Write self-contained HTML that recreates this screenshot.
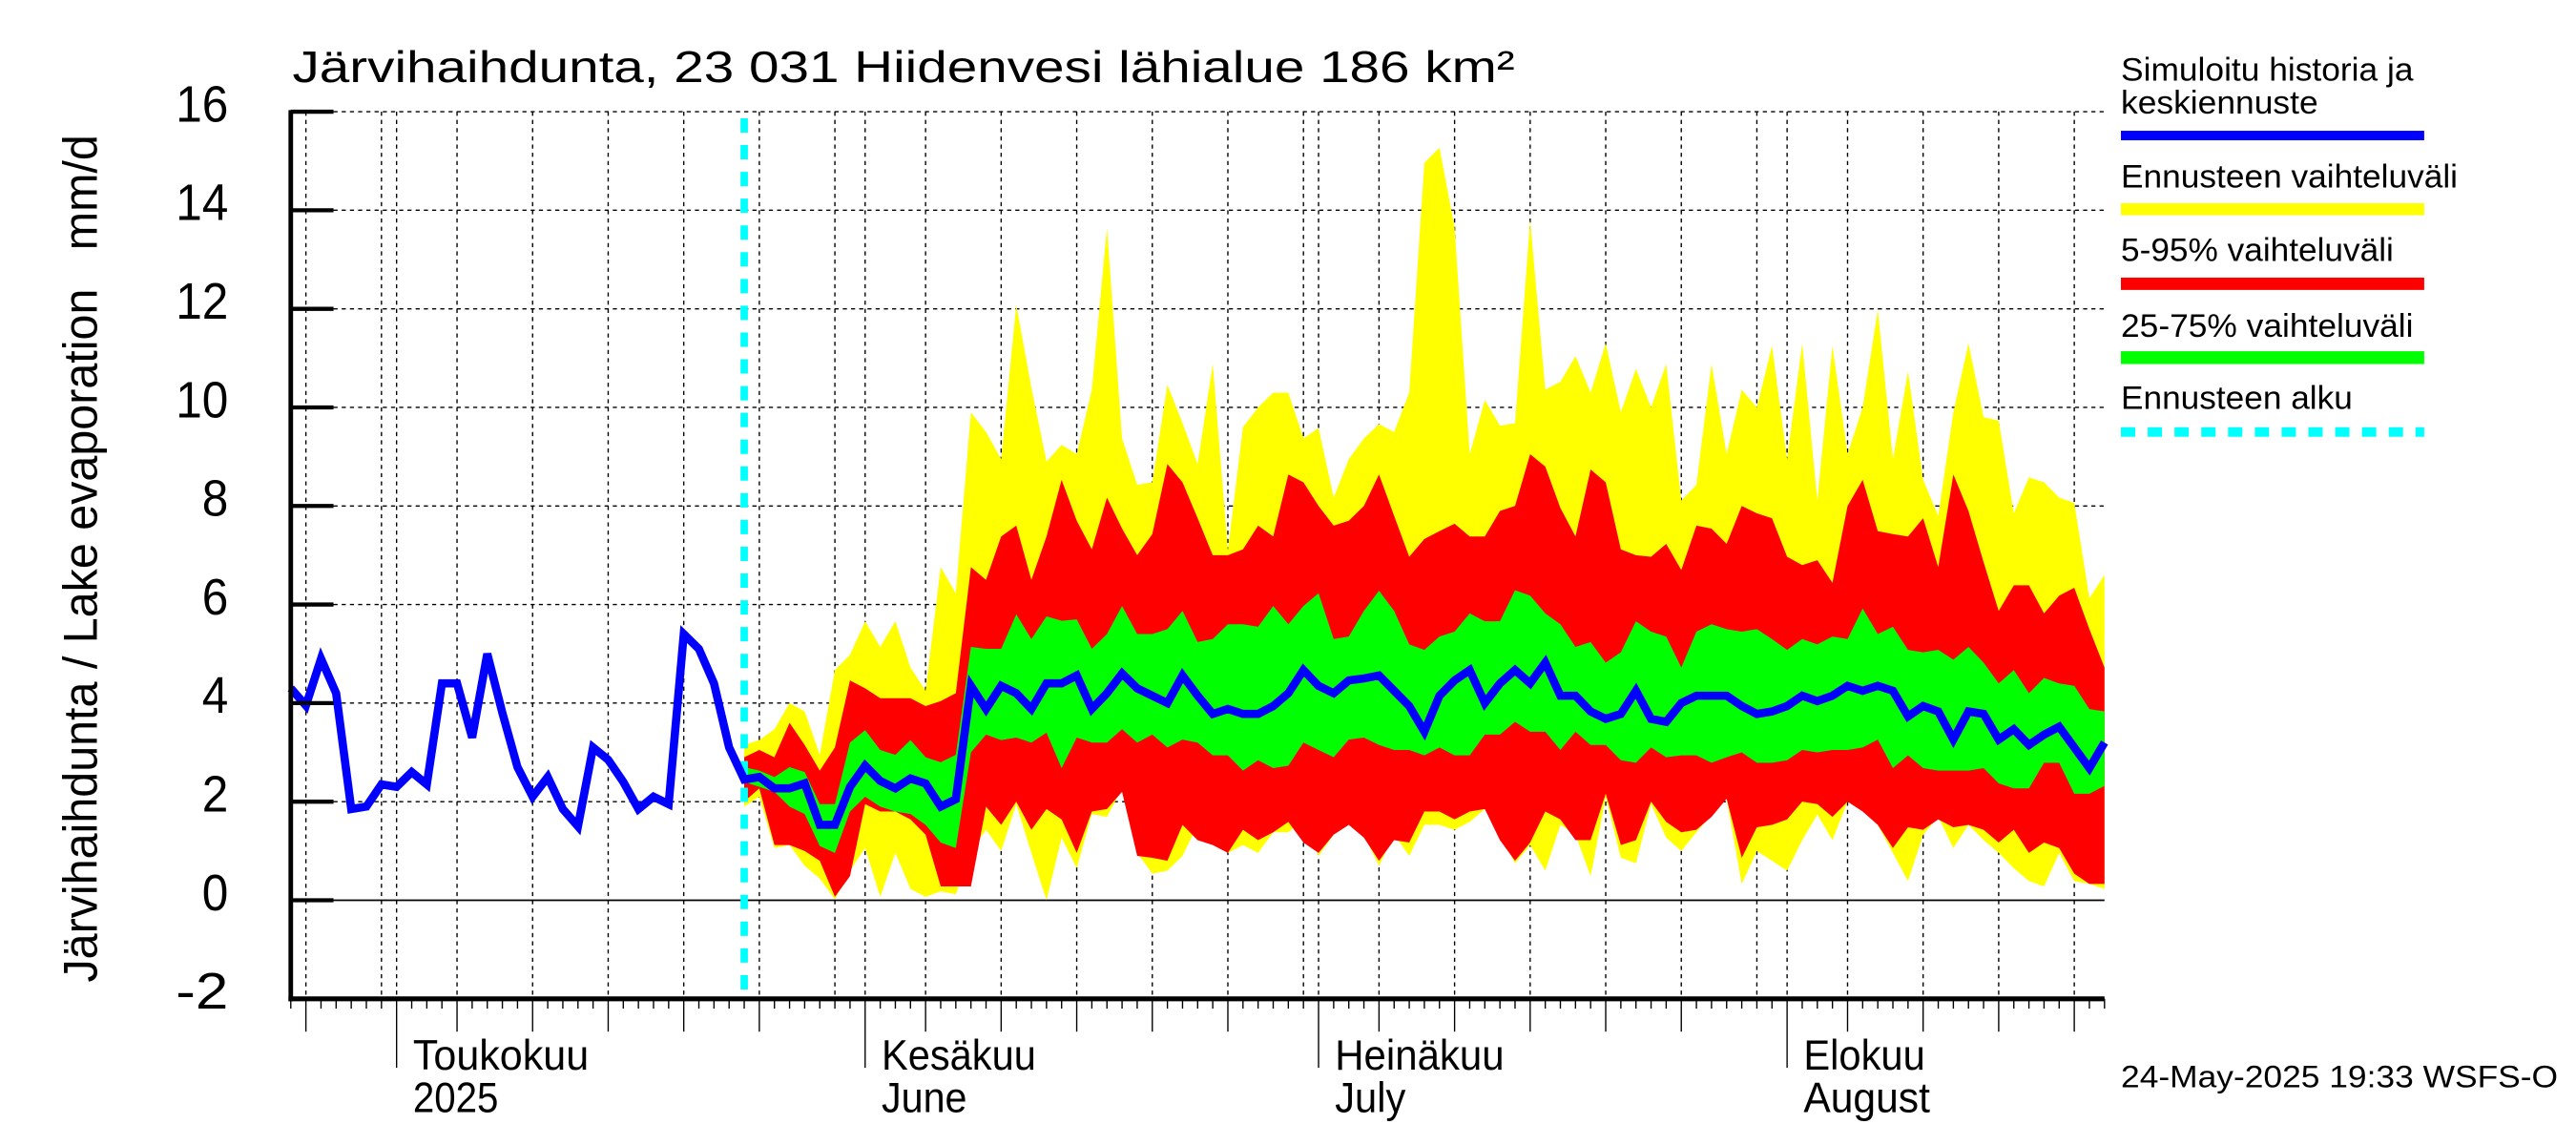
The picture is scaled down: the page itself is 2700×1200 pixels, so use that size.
<!DOCTYPE html>
<html><head><meta charset="utf-8"><title>Järvihaihdunta</title>
<style>html,body{margin:0;padding:0;background:#fff;}svg{display:block;}text{font-family:"Liberation Sans",sans-serif;fill:#000;}</style>
</head><body>
<svg id="chart" xmlns="http://www.w3.org/2000/svg" width="2700" height="1200" viewBox="0 0 1568 697" preserveAspectRatio="none">
<rect x="0" y="0" width="1568" height="697" fill="#fff"/>
<g id="grid"></g>
<g id="bands"></g>
<g id="lines"></g>
<g id="axes"></g>
<text x="178" y="50" font-size="27" textLength="744" lengthAdjust="spacingAndGlyphs">Järvihaihdunta, 23 031 Hiidenvesi lähialue 186 km²</text>
<text transform="translate(59,598) rotate(-90)" font-size="29" textLength="516" lengthAdjust="spacingAndGlyphs" xml:space="preserve">Järvihaihdunta / Lake evaporation   mm/d</text>
<g>
<text x="1291" y="49" font-size="20" textLength="178" lengthAdjust="spacingAndGlyphs">Simuloitu historia ja</text>
<text x="1291" y="69" font-size="20" textLength="120" lengthAdjust="spacingAndGlyphs">keskiennuste</text>
<rect x="1291" y="79.6" width="184.6" height="5.8" fill="#0000ff"/>
<text x="1291" y="114" font-size="20" textLength="205" lengthAdjust="spacingAndGlyphs">Ennusteen vaihteluväli</text>
<rect x="1291" y="123.7" width="184.6" height="7.3" fill="#ffff00"/>
<text x="1291" y="159" font-size="20" textLength="166" lengthAdjust="spacingAndGlyphs">5-95% vaihteluväli</text>
<rect x="1291" y="169" width="184.6" height="7.5" fill="#ff0000"/>
<text x="1291" y="205" font-size="20" textLength="178" lengthAdjust="spacingAndGlyphs">25-75% vaihteluväli</text>
<rect x="1291" y="213.8" width="184.6" height="7.8" fill="#00ff00"/>
<text x="1291" y="249" font-size="20" textLength="141" lengthAdjust="spacingAndGlyphs">Ennusteen alku</text>
<line x1="1291" y1="263" x2="1475.6" y2="263" stroke="#00ffff" stroke-width="5.8" stroke-dasharray="8.7,7.6"/>
</g>
<text x="1291" y="662" font-size="19" textLength="266" lengthAdjust="spacingAndGlyphs">24-May-2025 19:33 WSFS-O</text>
</svg>
<script>
// Data (day index 0 = 24 Apr 2025)
const histValues = [4.3,3.95,4.9,4.2,1.85,1.9,2.35,2.3,2.6,2.35,4.4,4.4,3.3,5.0,3.8,2.7,2.1,2.5,1.85,1.5,3.1,2.85,2.4,1.85,2.1,1.95,5.4,5.1,4.4,3.1,2.45];
const forecastStartDay = 30;
const median = [2.47,2.5,2.27,2.27,2.37,1.53,1.53,2.3,2.73,2.42,2.27,2.47,2.37,1.9,2.05,4.35,3.88,4.35,4.2,3.88,4.4,4.4,4.56,3.88,4.2,4.6,4.3,4.15,4.0,4.56,4.15,3.78,3.88,3.78,3.78,3.94,4.2,4.67,4.35,4.2,4.46,4.5,4.56,4.25,3.94,3.42,4.15,4.46,4.67,4.0,4.4,4.67,4.4,4.82,4.15,4.15,3.83,3.68,3.78,4.25,3.68,3.62,4.0,4.15,4.15,4.15,3.94,3.78,3.83,3.94,4.15,4.04,4.15,4.35,4.25,4.35,4.25,3.73,3.94,3.83,3.26,3.83,3.78,3.26,3.47,3.15,3.36,3.52,3.1,2.68,3.2];
const p75 = [2.7,2.63,2.5,2.7,2.6,1.95,1.95,3.2,3.45,3.05,2.95,3.25,2.9,2.8,2.95,5.14,5.1,5.1,5.8,5.3,5.76,5.67,5.7,5.1,5.4,5.97,5.4,5.4,5.5,5.87,5.24,5.3,5.6,5.6,5.55,5.97,5.6,5.97,6.23,5.3,5.35,5.87,6.28,5.87,5.19,5.08,5.35,5.45,5.82,5.66,5.66,6.29,6.18,5.82,5.6,5.14,5.24,4.82,5.03,5.66,5.45,5.35,4.72,5.45,5.6,5.5,5.45,5.5,5.3,5.08,5.3,5.19,5.35,5.3,5.92,5.4,5.55,5.08,5.03,5.08,4.88,5.14,4.82,4.4,4.67,4.2,4.51,4.4,4.35,3.88,3.83];
const p25 = [2.4,2.3,2.2,1.9,1.75,1.1,0.96,1.8,2.1,1.9,1.8,1.75,1.53,1.17,1.06,3.0,3.36,3.25,3.3,3.2,3.4,2.68,3.3,3.2,3.2,3.47,3.2,3.36,3.1,3.26,3.2,2.94,2.94,2.63,2.84,2.68,2.73,3.2,3.05,2.9,3.26,3.3,3.15,3.05,3.05,2.94,3.1,2.94,2.94,3.36,3.36,3.62,3.42,3.42,3.05,3.42,3.15,3.15,2.84,2.79,3.1,2.9,2.94,2.94,2.79,2.9,3.0,2.79,2.79,2.84,3.05,3.0,3.05,3.05,3.1,3.26,2.68,2.94,2.68,2.63,2.63,2.63,2.68,2.37,2.27,2.27,2.79,2.79,2.16,2.16,2.32];
const p95 = [2.9,3.05,2.9,3.6,3.15,2.63,3.1,4.46,4.3,4.1,4.1,4.1,3.94,4.04,4.2,6.76,6.5,7.38,7.6,6.5,7.38,8.53,7.7,7.12,8.17,7.54,7.0,7.43,8.85,8.48,7.75,7.0,7.0,7.12,7.6,7.38,8.64,8.48,8.0,7.6,7.7,8.0,8.64,7.8,6.97,7.33,7.49,7.64,7.38,7.38,7.9,8.0,9.05,8.8,7.96,7.38,8.74,8.48,7.12,7.0,6.97,7.23,6.7,7.6,7.54,7.23,8.0,7.85,7.75,6.97,6.8,6.9,6.44,8.0,8.53,7.49,7.43,7.38,7.75,6.76,8.64,7.9,6.86,5.87,6.39,6.39,5.82,6.18,6.34,5.5,4.72];
const p5 = [2.0,2.27,1.12,1.12,1.0,0.8,0.07,0.49,1.95,1.8,1.8,1.64,1.33,0.28,0.28,0.28,1.9,1.53,2.0,1.43,1.85,1.64,0.96,1.8,1.85,2.2,0.9,0.86,0.8,1.53,1.22,1.12,0.96,1.43,1.22,1.38,1.59,1.17,0.96,1.33,1.53,1.27,0.8,1.22,1.17,1.8,1.8,1.64,1.8,1.85,1.22,0.8,1.17,1.8,1.64,1.22,1.22,2.16,1.12,1.22,2.0,1.59,1.38,1.43,1.69,2.06,0.86,1.48,1.53,1.64,2.0,1.95,1.69,2.0,1.8,1.53,1.06,1.48,1.43,1.64,1.48,1.53,1.43,1.17,1.43,0.96,1.17,1.06,0.54,0.33,0.33];
const maxRange = [3.15,3.25,3.47,4.0,3.83,2.95,4.67,4.98,5.66,5.14,5.66,4.72,4.25,6.76,6.23,9.9,9.5,8.95,12.08,10.4,8.9,9.24,9.05,10.36,13.65,9.37,8.43,8.48,10.46,9.68,8.85,10.88,7.1,9.6,10.0,10.3,10.3,9.37,9.58,8.17,8.95,9.37,9.66,9.5,10.3,14.96,15.27,13.65,9.05,10.15,9.63,9.68,13.8,10.36,10.52,11.04,10.3,11.3,9.9,10.78,10.0,10.88,8.11,8.43,10.88,9.05,10.36,10.0,11.25,8.95,11.3,8.11,11.25,9.05,10.0,11.98,8.95,10.73,8.53,7.8,9.9,11.3,9.8,9.73,7.85,8.58,8.48,8.17,8.06,6.13,6.6];
const minRange = [1.9,2.1,1.06,1.12,0.7,0.44,0.02,0.6,1.06,0.07,0.96,0.23,0.07,0.18,0.12,1.0,1.43,1.0,1.95,0.96,0.0,1.27,0.65,1.75,1.69,2.27,0.96,0.54,0.6,0.9,1.53,1.22,0.96,1.12,0.96,1.38,1.38,1.64,0.9,1.33,1.59,1.33,0.7,1.33,0.9,1.53,1.53,1.43,1.59,1.85,1.33,0.75,1.12,0.6,1.53,1.33,0.49,2.1,0.86,0.75,1.95,1.27,1.0,1.38,1.74,2.06,0.33,1.0,0.8,0.6,1.22,1.74,1.22,2.0,1.85,1.53,0.96,0.39,1.33,1.69,1.06,1.53,1.22,0.96,0.65,0.39,0.28,0.96,0.39,0.33,0.23];
const yTicks = [-2,0,2,4,6,8,10,12,14,16];
const monthLabels = [["Toukokuu","2025"],["Kesäkuu","June"],["Heinäkuu","July"],["Elokuu","August"]];
const monthDays = [7,38,68,99];
const gridDays = [1,6,7,11,16,21,26,31,36,38,42,47,52,57,62,67,68,72,77,82,87,92,97,99,103,108,113,118];

const NS="http://www.w3.org/2000/svg";
const X0=177, X1=1281, Y_TOP=68, Y_BOT=608, DAYS=120;
const xs=d=>X0+(X1-X0)*d/DAYS;
const ys=v=>Y_BOT-(v+2)*(Y_BOT-Y_TOP)/18;
function mk(tag,attrs,parent){const e=document.createElementNS(NS,tag);for(const k in attrs)e.setAttribute(k,attrs[k]);parent.appendChild(e);return e;}
const grid=document.getElementById('grid'),bands=document.getElementById('bands'),lines=document.getElementById('lines'),axes=document.getElementById('axes');

yTicks.forEach(v=>{
  const y=ys(v);
  const g=mk('line',{x1:203,y1:y,x2:X1,y2:y,stroke:'#000','stroke-width':v===0?1:0.8,'stroke-dasharray':v===0?'none':'2.5,2.5'},grid);
  
  
  const t=mk('line',{x1:X0,y1:y,x2:203,y2:y,stroke:'#000','stroke-width':2.5},axes);
  
  
  const lab=mk('text',{x:139,y:y+6,'font-size':31,'text-anchor':'end'},axes);
  lab.textContent=String(v);
  lab.setAttribute('textLength',String(v).length*16);
  lab.setAttribute('lengthAdjust','spacingAndGlyphs');
  
  
});
gridDays.forEach(d=>{
  const x=xs(d);
  const g=mk('line',{x1:x,y1:Y_TOP,x2:x,y2:Y_BOT,stroke:'#000','stroke-width':0.8,'stroke-dasharray':'2.5,2.5'},grid);
  
  
});

function band(up,lo,color,name){
  let pts=[];
  for(let i=0;i<up.length;i++)pts.push(xs(forecastStartDay+i).toFixed(1)+','+ys(up[i]).toFixed(1));
  for(let i=lo.length-1;i>=0;i--)pts.push(xs(forecastStartDay+i).toFixed(1)+','+ys(lo[i]).toFixed(1));
  const p=mk('polygon',{points:pts.join(' '),fill:color},bands);
  
  
}
band(maxRange,minRange,'#ffff00','forecast-range-band');
band(p95,p5,'#ff0000','band-5-95');
band(p75,p25,'#00ff00','band-25-75');

const fl=mk('line',{x1:xs(forecastStartDay),y1:Y_TOP+4,x2:xs(forecastStartDay),y2:Y_BOT,stroke:'#00ffff','stroke-width':4.5,'stroke-dasharray':'8.7,7.6'},lines);



let mp=[];
histValues.forEach((v,i)=>mp.push(xs(i).toFixed(1)+','+ys(v).toFixed(1)));
median.forEach((v,i)=>{if(i>0)mp.push(xs(forecastStartDay+i).toFixed(1)+','+ys(v).toFixed(1));});
const ml=mk('polyline',{points:mp.join(' '),fill:'none',stroke:'#0000ff','stroke-width':5,'stroke-linejoin':'miter','stroke-miterlimit':3},lines);



const la=mk('line',{x1:X0,y1:Y_TOP-1,x2:X0,y2:Y_BOT+1.5,stroke:'#000','stroke-width':2.8},axes);


const ba=mk('line',{x1:X0-1.4,y1:Y_BOT,x2:X1,y2:Y_BOT,stroke:'#000','stroke-width':3},axes);


for(let d=0;d<=DAYS;d++){
  const x=xs(d);
  const date=new Date(2025,3,24+d).getDate();
  let len=6;
  if(monthDays.includes(d))len=42;else if(date%5===0&&date!==30)len=20;
  const t=mk('line',{x1:x,y1:Y_BOT,x2:x,y2:Y_BOT+len,stroke:'#000','stroke-width':0.8},axes);
  
  
}
const labW=[[107,52],[94,52],[103,43],[74,77]];
monthDays.forEach((d,i)=>{
  const x=xs(d)+10;
  const t1=mk('text',{x:x,y:651,'font-size':26,textLength:labW[i][0],lengthAdjust:'spacingAndGlyphs'},axes);
  t1.textContent=monthLabels[i][0];
  
  
  const t2=mk('text',{x:x,y:677,'font-size':26,textLength:labW[i][1],lengthAdjust:'spacingAndGlyphs'},axes);
  t2.textContent=monthLabels[i][1];
  
  
});
</script>
</body></html>
